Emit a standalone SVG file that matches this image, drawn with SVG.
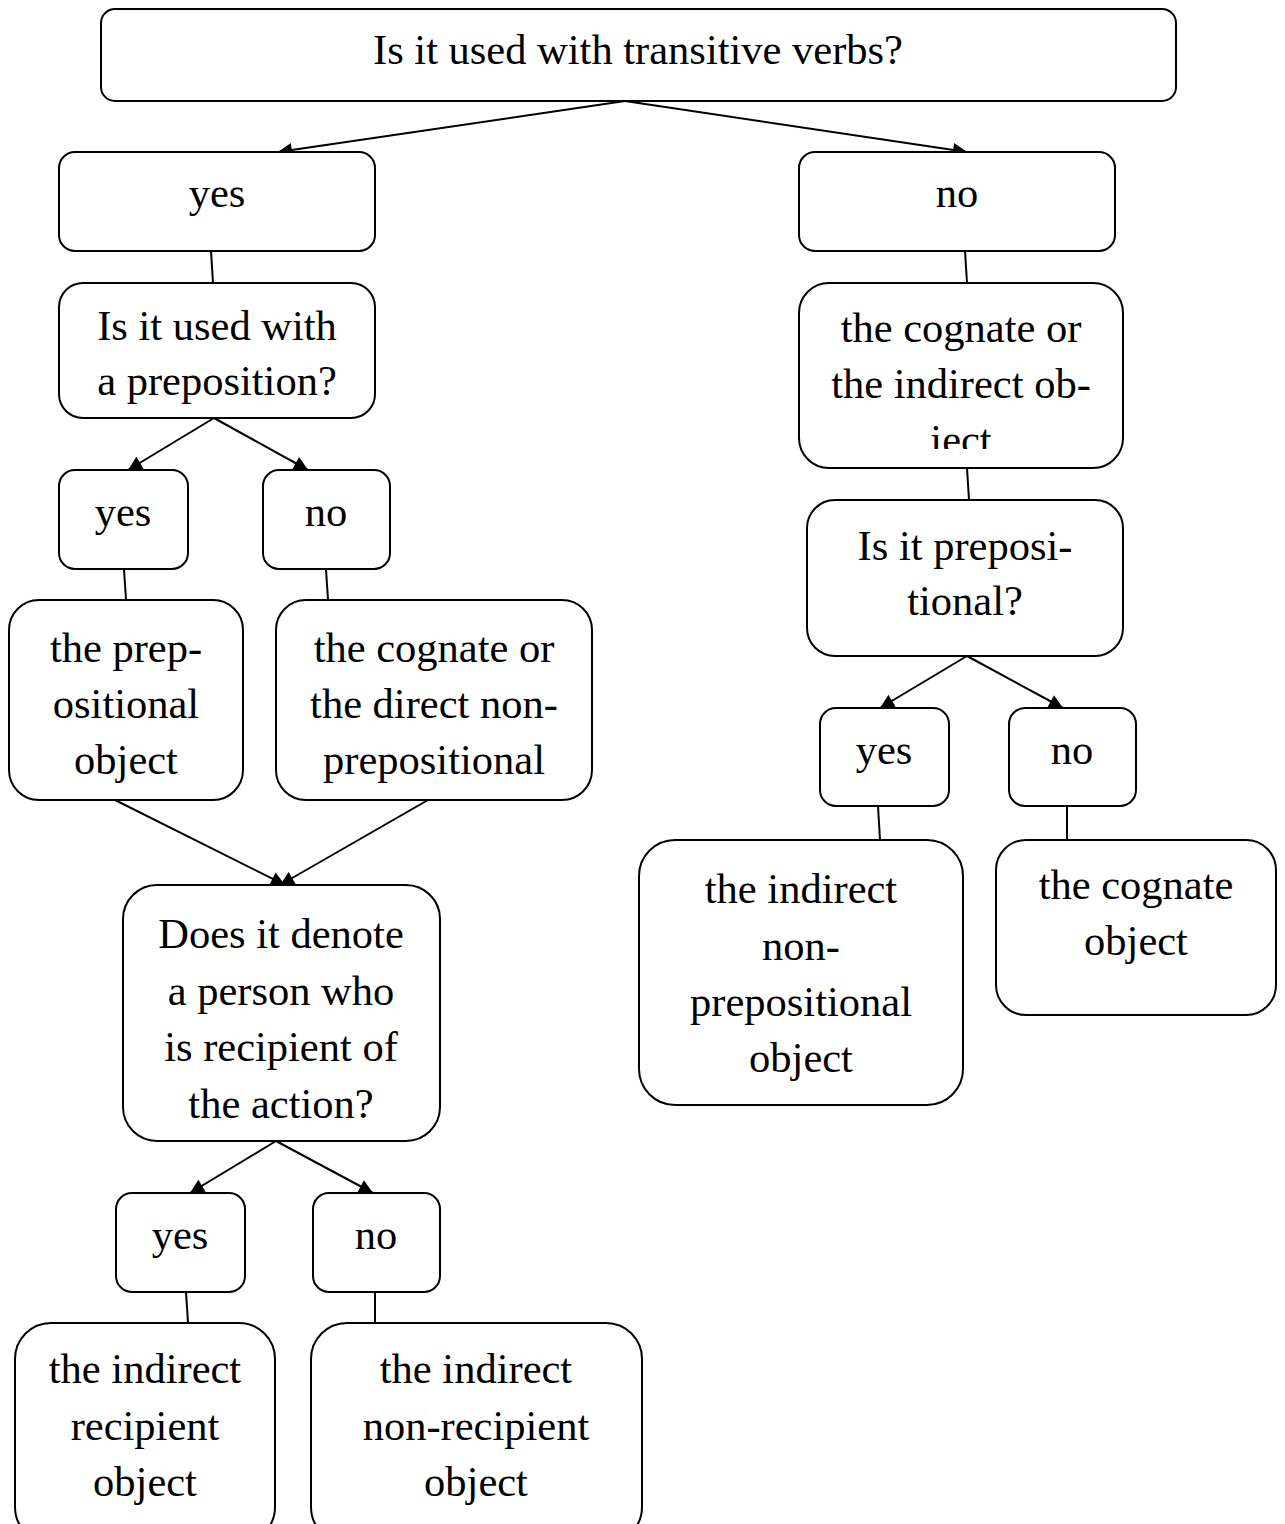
<svg xmlns="http://www.w3.org/2000/svg" width="1285" height="1524" viewBox="0 0 1285 1524">
<style>
.b{fill:#fff;stroke:#000;stroke-width:2}
.t{font-family:'Liberation Serif','Times New Roman','DejaVu Serif',serif;font-size:42.5px;fill:#000;text-anchor:middle}
.c line{stroke:#000;stroke-width:2}
.a{marker-end:url(#ah)}
</style>
<defs>
<marker id="ah" viewBox="0 0 14 14" refX="14" refY="7" markerWidth="16" markerHeight="14" orient="auto" markerUnits="userSpaceOnUse">
<path d="M0,0 L14,7 L0,14 z" fill="#000"/>
</marker>
<clipPath id="clipCog"><rect x="799" y="283" width="325" height="166"/></clipPath>
</defs>
<rect width="1285" height="1524" fill="#fff"/>
<g class="c">
<line class="a" x1="625" y1="101" x2="278" y2="152"/>
<line class="a" x1="625" y1="101" x2="967" y2="152"/>
<line x1="211" y1="251" x2="213" y2="283"/>
<line class="a" x1="214" y1="418" x2="128" y2="470"/>
<line class="a" x1="214" y1="418" x2="308" y2="470"/>
<line x1="124" y1="569" x2="126" y2="600"/>
<line x1="326" y1="569" x2="328" y2="600"/>
<line class="a" x1="115" y1="800" x2="285" y2="885"/>
<line class="a" x1="428" y1="800" x2="280" y2="885"/>
<line class="a" x1="276" y1="1141" x2="190" y2="1193"/>
<line class="a" x1="276" y1="1141" x2="373" y2="1193"/>
<line x1="186" y1="1292" x2="188" y2="1323"/>
<line x1="375" y1="1292" x2="375" y2="1323"/>
<line x1="965" y1="251" x2="967" y2="283"/>
<line x1="967" y1="468" x2="969" y2="500"/>
<line class="a" x1="967" y1="656" x2="880" y2="708"/>
<line class="a" x1="967" y1="656" x2="1063" y2="708"/>
<line x1="878" y1="806" x2="880" y2="840"/>
<line x1="1067" y1="806" x2="1067" y2="840"/>
</g>
<g id="n-root"><rect class="b" x="101" y="9" width="1075" height="92" rx="14"/><text class="t" x="638" y="64">Is it used with transitive verbs?</text></g>
<g id="n-yes1"><rect class="b" x="59" y="152" width="316" height="99" rx="16"/><text class="t" x="217" y="207">yes</text></g>
<g id="n-no1"><rect class="b" x="799" y="152" width="316" height="99" rx="16"/><text class="t" x="957" y="207">no</text></g>
<g id="n-prep"><rect class="b" x="59" y="283" width="316" height="135" rx="24"/><text class="t" x="217" y="340">Is it used with</text><text class="t" x="217" y="395">a preposition?</text></g>
<g id="n-yes2"><rect class="b" x="59" y="470" width="129" height="99" rx="16"/><text class="t" x="123" y="526">yes</text></g>
<g id="n-no2"><rect class="b" x="263" y="470" width="127" height="99" rx="16"/><text class="t" x="326" y="526">no</text></g>
<g id="n-prepobj"><rect class="b" x="9" y="600" width="234" height="200" rx="30"/><text class="t" x="126" y="662">the prep-</text><text class="t" x="126" y="718">ositional</text><text class="t" x="126" y="774">object</text></g>
<g id="n-direct"><rect class="b" x="276" y="600" width="316" height="200" rx="30"/><text class="t" x="434" y="662">the cognate or</text><text class="t" x="434" y="718">the direct non-</text><text class="t" x="434" y="774">prepositional</text></g>
<g id="n-denote"><rect class="b" x="123" y="885" width="317" height="256" rx="34"/><text class="t" x="281" y="948">Does it denote</text><text class="t" x="281" y="1005">a person who</text><text class="t" x="281" y="1061">is recipient of</text><text class="t" x="281" y="1118">the action?</text></g>
<g id="n-yes3"><rect class="b" x="116" y="1193" width="129" height="99" rx="16"/><text class="t" x="180" y="1249">yes</text></g>
<g id="n-no3"><rect class="b" x="313" y="1193" width="127" height="99" rx="16"/><text class="t" x="376" y="1249">no</text></g>
<g id="n-recip"><rect class="b" x="15" y="1323" width="260" height="220" rx="36"/><text class="t" x="145" y="1383">the indirect</text><text class="t" x="145" y="1440">recipient</text><text class="t" x="145" y="1496">object</text></g>
<g id="n-nonrecip"><rect class="b" x="311" y="1323" width="331" height="220" rx="36"/><text class="t" x="476" y="1383">the indirect</text><text class="t" x="476" y="1440">non-recipient</text><text class="t" x="476" y="1496">object</text></g>
<g id="n-cogind"><rect class="b" x="799" y="283" width="324" height="185" rx="30"/><g clip-path="url(#clipCog)"><text class="t" x="961" y="342">the cognate or</text><text class="t" x="961" y="398">the indirect ob-</text><text class="t" x="961" y="454">iect</text></g></g>
<g id="n-prepq"><rect class="b" x="807" y="500" width="316" height="156" rx="28"/><text class="t" x="965" y="560">Is it preposi-</text><text class="t" x="965" y="615">tional?</text></g>
<g id="n-yes4"><rect class="b" x="820" y="708" width="129" height="98" rx="16"/><text class="t" x="884" y="764">yes</text></g>
<g id="n-no4"><rect class="b" x="1009" y="708" width="127" height="98" rx="16"/><text class="t" x="1072" y="764">no</text></g>
<g id="n-indnon"><rect class="b" x="639" y="840" width="324" height="265" rx="36"/><text class="t" x="801" y="903">the indirect</text><text class="t" x="801" y="960">non-</text><text class="t" x="801" y="1016">prepositional</text><text class="t" x="801" y="1072">object</text></g>
<g id="n-cogobj"><rect class="b" x="996" y="840" width="280" height="175" rx="30"/><text class="t" x="1136" y="899">the cognate</text><text class="t" x="1136" y="955">object</text></g>
</svg>
